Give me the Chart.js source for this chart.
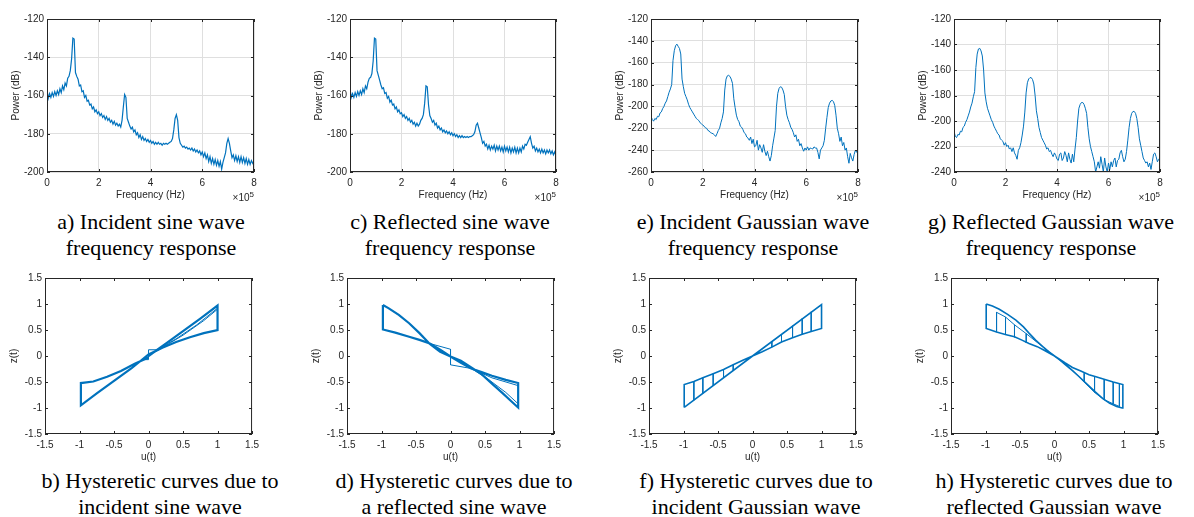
<!DOCTYPE html>
<html>
<head>
<meta charset="utf-8">
<script src="https://cdn.jsdelivr.net/npm/chart.js@4.4.1/dist/chart.umd.min.js"></script>
<style>
  body { margin: 0; background: #fff; width: 1194px; height: 517px; position: relative; overflow: hidden; }
  .panel { position: absolute; }
  .cap {
    position: absolute; width: 330px; text-align: center; color: #000;
    font-family: "Liberation Serif", "Times New Roman", serif; font-size: 22px; line-height: 26px;
  }
  .exp { position: absolute; font-family: "Liberation Sans", Arial, sans-serif; font-size: 10px; line-height: 12px; color: #262626; }
  .exp sup { font-size: 8px; vertical-align: 4px; line-height: 0; }
</style>
</head>
<body>

<div class="cap" style="left:-14px;top:209px">a) Incident sine wave<br>frequency response</div>
<div class="cap" style="left:285px;top:209px">c) Reflected sine wave<br>frequency response</div>
<div class="cap" style="left:588px;top:209px">e) Incident Gaussian wave<br>frequency response</div>
<div class="cap" style="left:886px;top:209px">g) Reflected Gaussian wave<br>frequency response</div>

<div class="cap" style="left:-5px;top:468px">b) Hysteretic curves due to<br>incident sine wave</div>
<div class="cap" style="left:289px;top:468px">d) Hysteretic curves due to<br>a reflected sine wave</div>
<div class="cap" style="left:591px;top:468px">f) Hysteretic curves due to<br>incident Gaussian wave</div>
<div class="cap" style="left:889px;top:468px">h) Hysteretic curves due to<br>reflected Gaussian wave</div>

<script>
// ---- spectra: frequency in units of 1e5 Hz, sampled every 0.05 ----
const freq = Array.from({ length: 161 }, (_, i) => Math.round(i * 5) / 100);

const powerIncSine = [
  -157, -161.5, -159, -161, -158.5, -160.5, -158, -160, -157.5, -159.5,
  -156.5, -158.5, -155, -157, -153.5, -155, -151, -150, -147, -141,
  -130, -130.5, -148, -150, -151.5, -155, -154.5, -158, -157.5, -161,
  -160, -163, -162.5, -165, -164.5, -167, -166, -168.5, -167.5, -169.5,
  -168.5, -170.5, -169.5, -171.5, -170.5, -172.5, -171, -173, -172, -174,
  -173, -175, -173.5, -175.5, -174.5, -176, -175, -176.5, -173, -166,
  -159.5, -161, -172, -174, -176, -177.5, -176.5, -179, -178, -180.5,
  -179.5, -182, -180.5, -183, -181.5, -183.5, -182.5, -184, -183, -184.5,
  -183.5, -185, -184, -185.5, -184.5, -185.5, -184.5, -185.5, -185, -186,
  -185, -185.5, -185, -185.5, -185, -184.5, -184, -182.5, -178, -172,
  -170, -173, -182, -185, -186, -187, -186.5, -187.5, -187, -188,
  -187.5, -188.5, -187.5, -189, -188, -189.5, -188.5, -190, -189, -191,
  -189.5, -192, -190, -193, -191, -194.5, -192, -195.5, -193, -196,
  -193.5, -196.5, -194, -197, -194.5, -198.5, -195, -192.5, -190, -185,
  -182.5, -185, -189, -192.5, -191, -194, -191.5, -194.5, -192, -195,
  -192, -195, -192.5, -195.5, -193, -196, -193.5, -196, -194, -195.5,
  -194
];

const powerRefSine = [
  -156.5, -161, -159, -161, -158.5, -160.5, -158, -160, -157.5, -159.5,
  -156.5, -158.5, -155, -156.5, -153, -151, -150.5, -148.5, -142, -130,
  -130.5, -147, -149.5, -152, -154.5, -156.5, -156, -159, -158.5, -161.5,
  -160.5, -163.5, -162.5, -165, -164.5, -167, -166, -168.5, -167.5, -169.5,
  -169, -171, -170, -172, -171, -173, -172, -174, -173, -175,
  -174, -176, -174.5, -176, -175, -173, -172, -170, -164, -155,
  -155.5, -165, -170.5, -172, -174, -173, -175.5, -174.5, -177, -176,
  -178, -177, -179, -178, -179.5, -178.5, -180, -179, -180.5, -179.5,
  -181, -180, -181.5, -180.5, -182, -181, -182, -181, -182, -181.5,
  -182, -181.5, -182, -181.5, -181.5, -181, -180.5, -179, -175.5, -174.5,
  -177, -179.5, -182, -185, -184, -186.5, -185.5, -188, -186, -188.5,
  -186.5, -188, -186, -189, -186.5, -188.5, -186.5, -189, -187, -189.5,
  -186.5, -189, -187, -189.5, -187, -190, -187.5, -189.5, -187, -190,
  -187.5, -190, -187.5, -189.5, -186.5, -188, -185.5, -186, -184.5, -183,
  -181.5, -185, -187.5, -186.5, -189, -187.5, -189.5, -188, -190, -188,
  -190, -188.5, -190.5, -188.5, -190, -188.5, -190.5, -189, -191, -189.5,
  -191.5
];

const powerIncGauss = [
  -209, -212, -213.5, -211, -212, -209, -209.5, -206, -205, -202,
  -200, -197, -195, -191, -187, -184, -180, -158, -149, -144.5,
  -143, -145, -147, -152, -175, -182, -188, -191, -194, -198,
  -201, -203, -205, -207, -209, -211, -212, -213, -215, -216,
  -217, -218, -219.5, -220, -222, -222.5, -224, -224.5, -225, -226,
  -227.5, -225, -222, -220, -215, -211, -205, -185, -175, -172,
  -171.5, -172.5, -175, -179, -193, -201, -208, -212, -214, -218,
  -219, -221, -224, -225, -228, -229, -231, -228, -234, -230,
  -237, -236, -231, -240, -235, -238, -242, -235, -241, -245,
  -241, -246, -250, -245, -236, -229, -222, -200, -188, -183.5,
  -182, -182.5, -185, -189, -200, -208, -212, -215, -219, -221,
  -224, -228, -226, -232, -230, -236, -234, -238, -241, -238,
  -240, -237, -240, -238, -238.5, -239, -237, -238, -238, -242,
  -248, -240, -238, -236, -231, -220, -210, -201, -197, -195,
  -194.5, -195.5, -199, -208, -220, -225, -232, -228, -236, -233,
  -240, -238, -246, -252, -243, -247, -250, -244, -240, -242,
  -239
];

const powerRefGauss = [
  -208, -212, -213, -210.5, -211, -208, -208.5, -205, -204, -201,
  -199, -196, -193, -189, -186, -181, -177, -158, -147.5, -143.5,
  -143, -145, -149, -160, -178, -185, -190, -193, -196, -199,
  -201, -204, -206, -208, -210, -211, -214, -215, -216, -219,
  -217, -220, -219, -222, -221, -224, -221, -225, -227, -230,
  -223, -221, -217, -211, -204, -193, -178, -170, -167, -166,
  -166, -167.5, -171, -180, -192, -198, -205, -209, -213, -215,
  -217, -219, -222, -221, -224, -223, -226, -228, -225, -227,
  -230, -231, -226, -225, -231, -229, -224, -227, -232, -225,
  -230, -233, -226, -232, -222, -213, -200, -190, -187, -185.5,
  -185.5, -187, -190, -194, -205, -214, -220, -224, -228, -232,
  -240, -236, -232, -237, -228, -234, -240, -229, -236, -240,
  -233, -238, -232, -236, -231, -229, -236, -231, -230, -225,
  -223, -228, -232, -230, -224, -215, -205, -198, -194, -192.5,
  -192.5, -194, -198, -205, -214, -219, -224, -229, -231, -233,
  -232, -236, -233, -238, -232, -226, -225, -228, -232, -230,
  -231
];

const freqTicks = [0, 2, 4, 6, 8];
const loopTicks = [-1.5, -1, -0.5, 0, 0.5, 1, 1.5];

// ---- hysteresis loops: u(t) vs z(t) ----
const loopIncSineU = [0, 0.25, 0.5, 0.75, 1.0, 1.0, 0.8, 0.6, 0.4, 0.2, 0, -0.25, -0.5, -0.75, -0.98, -0.98, -0.8, -0.6, -0.4, -0.2, 0];
const loopIncSineZ = [0, 0.24, 0.48, 0.72, 0.97, 0.5, 0.44, 0.36, 0.27, 0.16, 0.03, -0.24, -0.48, -0.72, -0.95, -0.52, -0.49, -0.4, -0.29, -0.15, -0.03];
const transIncSineU = [-0.1, 0, 0, 0.12, 0.4, 0.7, 1.0];
const transIncSineZ = [-0.07, -0.07, 0.12, 0.12, 0.33, 0.6, 0.92];
const trans2IncSineU = [0.1, 0.5, 0.8, 1.0];
const trans2IncSineZ = [0.08, 0.4, 0.68, 0.9];

const loopRefSineU = [-0.98, -0.9, -0.75, -0.6, -0.45, -0.3, -0.15, 0, 0.15, 0.3, 0.45, 0.6, 0.75, 0.88, 0.98, 0.98, 0.8, 0.6, 0.45, 0.3, 0.15, 0, -0.15, -0.3, -0.45, -0.6, -0.8, -0.98, -0.98];
const loopRefSineZ = [0.98, 0.92, 0.79, 0.63, 0.44, 0.23, 0.08, -0.01, -0.09, -0.22, -0.35, -0.53, -0.71, -0.87, -0.99, -0.52, -0.46, -0.38, -0.31, -0.24, -0.13, -0.01, 0.12, 0.24, 0.31, 0.37, 0.45, 0.51, 0.98];
const transRefSineU = [-0.3, 0, 0, 0.3];
const transRefSineZ = [0.24, 0.13, -0.17, -0.24];
const trans2RefSineU = [0.3, 0.6, 0.98];
const trans2RefSineZ = [-0.24, -0.42, -0.57];
const trans3RefSineU = [0.3, 0.55, 0.8, 0.98];
const trans3RefSineZ = [-0.24, -0.45, -0.7, -0.92];

const loopIncGaussU = [-0.99, 0, 1.0, 1.0, 0.85, 0.72, 0.58, 0.42, 0.28, 0.14, 0, -0.14, -0.28, -0.42, -0.57, -0.72, -0.85, -0.99, -0.99];
const loopIncGaussZ = [-0.99, 0, 0.99, 0.53, 0.47, 0.42, 0.35, 0.27, 0.17, 0.08, 0, -0.08, -0.17, -0.26, -0.34, -0.42, -0.49, -0.55, -0.99];
const stepIncGaussU = [-0.85, -0.72, -0.57, -0.42, -0.28, 0.28, 0.42, 0.58, 0.72, 0.85];
const stepIncGaussTop = [-0.49, -0.42, -0.34, -0.26, -0.17, 0.28, 0.42, 0.58, 0.72, 0.85];
const stepIncGaussBot = [-0.85, -0.72, -0.57, -0.42, -0.28, 0.17, 0.27, 0.35, 0.42, 0.47];

const loopRefGaussU = [-0.99, -0.9, -0.8, -0.68, -0.56, -0.45, -0.37, -0.27, -0.17, -0.08, 0, 0.08, 0.16, 0.26, 0.35, 0.47, 0.59, 0.7, 0.8, 0.9, 0.98, 0.99, 0.85, 0.73, 0.6, 0.5, 0.38, 0.26, 0.15, 0, -0.15, -0.25, -0.37, -0.48, -0.58, -0.7, -0.84, -0.99, -0.99];
const loopRefGaussZ = [1.0, 0.96, 0.9, 0.8, 0.69, 0.56, 0.44, 0.3, 0.18, 0.08, 0, -0.08, -0.17, -0.28, -0.39, -0.54, -0.69, -0.82, -0.91, -0.97, -1.0, -0.55, -0.5, -0.45, -0.4, -0.36, -0.29, -0.22, -0.13, 0, 0.11, 0.18, 0.24, 0.31, 0.37, 0.41, 0.46, 0.53, 1.0];
const innerRefGaussU = [-0.84, -0.71, -0.58, -0.41, -0.25, 0, 0.25, 0.43, 0.58, 0.72, 0.85, 0.94];
const innerRefGaussZ = [0.84, 0.75, 0.6, 0.43, 0.26, 0, -0.26, -0.5, -0.7, -0.84, -0.92, -0.97];
const stepRefGaussU = [-0.84, -0.71, -0.58, -0.41, 0.43, 0.58, 0.72, 0.85, 0.94];
const stepRefGaussTop = [0.84, 0.75, 0.6, 0.43, -0.33, -0.39, -0.45, -0.5, -0.52];
const stepRefGaussBot = [0.46, 0.41, 0.36, 0.25, -0.5, -0.7, -0.84, -0.92, -0.97];

// ---- drawing ----
const BLUE = '#0072bd';
const AXIS = '#262626';
const FONT = '"Liberation Sans", Arial, sans-serif';
const AXIS_W = 40, AXIS_H = 30, PAD_T = 6, PAD_R = 10;

const pts = (xs, ys) => xs.map((x, i) => ({ x, y: ys[i] }));

function line(data, width) {
  return { data, showLine: true, borderColor: BLUE, borderWidth: width, pointRadius: 0, tension: 0, fill: false };
}

function steps(us, tops, bots) {
  return us.map((u, i) => line([{ x: u, y: tops[i] }, { x: u, y: bots[i] }], 1));
}

// box round the axes with ticks pointing inwards, as in MATLAB
const boxTicks = {
  id: 'boxTicks',
  afterDatasetsDraw(chart) {
    const { ctx, chartArea: a, scales } = chart;
    ctx.save();
    ctx.strokeStyle = AXIS;
    ctx.lineWidth = 1;
    ctx.strokeRect(a.left + 0.5, a.top + 0.5, a.right - a.left - 1, a.bottom - a.top - 1);
    ctx.beginPath();
    scales.x.ticks.forEach(t => {
      const px = Math.round(scales.x.getPixelForValue(t.value)) + 0.5;
      ctx.moveTo(px, a.bottom); ctx.lineTo(px, a.bottom - 3);
      ctx.moveTo(px, a.top); ctx.lineTo(px, a.top + 3);
    });
    scales.y.ticks.forEach(t => {
      const py = Math.round(scales.y.getPixelForValue(t.value)) + 0.5;
      ctx.moveTo(a.left, py); ctx.lineTo(a.left + 3, py);
      ctx.moveTo(a.right, py); ctx.lineTo(a.right - 3, py);
    });
    ctx.stroke();
    ctx.restore();
  }
};

function axis(min, max, ticks, title, grid, horizontal) {
  return {
    type: 'linear', min, max,
    afterFit: s => { if (horizontal) s.height = AXIS_H; else s.width = AXIS_W; },
    afterBuildTicks: s => { s.ticks = ticks.map(v => ({ value: v })); },
    ticks: {
      color: AXIS, font: { family: FONT, size: 10 }, padding: horizontal ? 5 : 3,
      maxRotation: 0, autoSkip: false, callback: v => String(v)
    },
    grid: { display: grid, color: '#dfdfdf', lineWidth: 1, drawTicks: false },
    border: { display: false },
    title: {
      display: true, text: title, color: AXIS, font: { family: FONT, size: 10 },
      padding: horizontal ? { top: 0, bottom: 1 } : { top: 3, bottom: 0 }
    }
  };
}

function addPanel(box, datasets, xAxis, yAxis, withExp) {
  const w = box.r - box.l + AXIS_W + PAD_R;
  const h = box.b - box.t + PAD_T + AXIS_H;
  const wrap = document.createElement('div');
  wrap.className = 'panel';
  wrap.style.left = (box.l - AXIS_W) + 'px';
  wrap.style.top = (box.t - PAD_T) + 'px';
  const cv = document.createElement('canvas');
  cv.width = w; cv.height = h;
  cv.style.width = w + 'px'; cv.style.height = h + 'px';
  wrap.appendChild(cv);
  document.body.appendChild(wrap);

  new Chart(cv, {
    type: 'scatter',
    data: { datasets },
    options: {
      responsive: false, animation: false, events: [],
      layout: { padding: { top: PAD_T, right: PAD_R, left: 0, bottom: 0 } },
      plugins: { legend: { display: false }, tooltip: { enabled: false } },
      scales: { x: xAxis, y: yAxis }
    },
    plugins: [boxTicks]
  });

  if (withExp) {
    const e = document.createElement('div');
    e.className = 'exp';
    e.innerHTML = '&times;10<sup>5</sup>';
    e.style.right = (1194 - box.r) + 'px';
    e.style.top = (box.b + 20) + 'px';
    document.body.appendChild(e);
  }
}

const freqAxis = () => axis(0, 8, freqTicks, 'Frequency (Hz)', true, true);
const uAxis = () => axis(-1.5, 1.5, loopTicks, 'u(t)', false, true);
const zAxis = () => axis(-1.5, 1.5, loopTicks, 'z(t)', false, false);

// a) and c)
addPanel({ l: 47, t: 16, r: 254, b: 172 }, [line(pts(freq, powerIncSine), 1.2)],
  freqAxis(), axis(-200, -120, [-200, -180, -160, -140, -120], 'Power (dB)', true, false), true);
addPanel({ l: 350, t: 16, r: 556, b: 172 }, [line(pts(freq, powerRefSine), 1.2)],
  freqAxis(), axis(-200, -120, [-200, -180, -160, -140, -120], 'Power (dB)', true, false), true);
// e) and g)
addPanel({ l: 651, t: 16, r: 858, b: 172 }, [line(pts(freq, powerIncGauss), 1)],
  freqAxis(), axis(-260, -120, [-260, -240, -220, -200, -180, -160, -140, -120], 'Power (dB)', true, false), true);
addPanel({ l: 954, t: 16, r: 1160, b: 172 }, [line(pts(freq, powerRefGauss), 1)],
  freqAxis(), axis(-240, -120, [-240, -220, -200, -180, -160, -140, -120], 'Power (dB)', true, false), true);

// b) d) f) h)
addPanel({ l: 45, t: 275, r: 254, b: 434 }, [
  line(pts(loopIncSineU, loopIncSineZ), 2.2),
  line(pts(transIncSineU, transIncSineZ), 1),
  line(pts(trans2IncSineU, trans2IncSineZ), 1)
], uAxis(), zAxis(), false);

addPanel({ l: 347, t: 275, r: 556, b: 434 }, [
  line(pts(loopRefSineU, loopRefSineZ), 2.2),
  line(pts(transRefSineU, transRefSineZ), 1),
  line(pts(trans2RefSineU, trans2RefSineZ), 1),
  line(pts(trans3RefSineU, trans3RefSineZ), 1)
], uAxis(), zAxis(), false);

addPanel({ l: 649, t: 275, r: 858, b: 434 }, [
  line(pts(loopIncGaussU, loopIncGaussZ), 1.6),
  ...steps(stepIncGaussU, stepIncGaussTop, stepIncGaussBot)
], uAxis(), zAxis(), false);

addPanel({ l: 951, t: 275, r: 1160, b: 434 }, [
  line(pts(loopRefGaussU, loopRefGaussZ), 1.6),
  line(pts(innerRefGaussU, innerRefGaussZ), 1),
  ...steps(stepRefGaussU, stepRefGaussTop, stepRefGaussBot)
], uAxis(), zAxis(), false);
</script>
</body>
</html>
